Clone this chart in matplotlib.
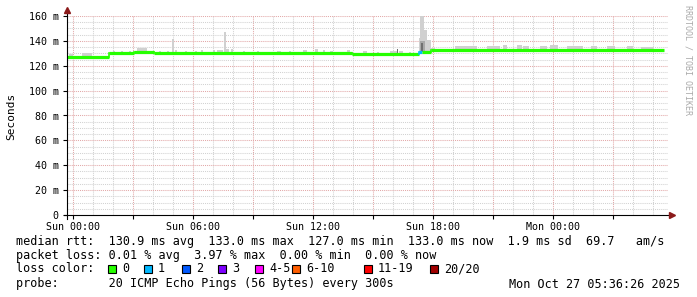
import numpy as np
import matplotlib
matplotlib.use("Agg")
import matplotlib.pyplot as plt
from matplotlib.patches import Rectangle

plt.rcParams['font.family'] = ['DejaVu Sans Mono']

# median rtt steps: hours since Sun 00:00 -> ms, and loss count per step
step_edges = [-0.3, 1.8, 3.05, 4.05, 13.95, 17.3, 17.45, 17.9, 29.55]
step_median = [127.0, 130.0, 131.3, 130.0, 129.2, 131.0, 131.3, 133.0]
step_loss = [0, 0, 0, 0, 0, 1, 0, 0]

# smoke (ping spread): start hour, end hour, top ms
smoke_start = [-0.2, 0.45, 2.0, 2.4, 2.8, 3.18, 4.3, 4.7, 4.95, 5.1, 5.6, 6.1, 6.4,
               7.0, 7.2, 7.55, 7.65, 7.9, 8.5, 9.2, 10.2, 10.8, 11.5, 12.1, 12.5,
               12.85, 13.7, 14.5, 15.2, 15.85, 16.3, 16.8, 17.3, 17.37, 17.53,
               17.7, 17.9, 19.1, 19.5, 20.7, 21.5, 22.2, 22.5, 23.35, 23.85,
               24.7, 25.9, 26.7, 27.7, 28.4]
smoke_end = [0.0, 0.95, 2.1, 2.5, 2.9, 3.7, 4.4, 4.8, 5.03, 5.2, 5.7, 6.2, 6.5,
             7.1, 7.5, 7.63, 7.8, 8.0, 8.6, 9.3, 10.4, 10.9, 11.7, 12.25, 12.6,
             13.0, 13.85, 14.7, 15.3, 16.2, 16.5, 16.9, 17.37, 17.53, 17.7,
             17.9, 18.1, 20.2, 20.0, 21.35, 21.7, 22.45, 22.8, 23.7, 24.25,
             25.5, 26.2, 27.1, 28.0, 29.0]
smoke_top = [129.8, 130.0, 131.5, 131.5, 131.8, 134.3, 132.0, 132.0, 141.2, 133.0,
             132.0, 132.0, 132.5, 132.5, 132.6, 147.3, 133.5, 133.6, 132.0, 132.0,
             132.0, 132.0, 132.6, 133.7, 133.0, 132.0, 132.5, 131.8, 131.0, 131.5,
             131.5, 131.0, 142.0, 160.5, 148.7, 141.0, 134.5, 135.9, 135.8, 135.5,
             136.6, 137.0, 135.5, 135.6, 136.5, 135.5, 135.5, 135.5, 135.5, 135.0]

# darker inner smoke
core_start = [16.2, 17.33, 17.41]
core_end = [16.27, 17.58, 17.5]
core_top = [133.4, 140.0, 138.3]
core_color = ['#707070', '#a8a8a8', '#707070']

loss_labels = ['0', '1', '2', '3', '4-5', '6-10', '11-19', '20/20']
loss_colors = ['#26ff00', '#00b8ff', '#0059ff', '#7e00ff', '#ff00fe',
               '#ff5e00', '#ff0000', '#a10000']
loss_box_x = [108, 144, 182, 218, 255, 292, 364, 430]

tick_hours = [0, 6, 12, 18, 24]
tick_names = ['Sun 00:00', 'Sun 06:00', 'Sun 12:00', 'Sun 18:00', 'Mon 00:00']

W, H = 697, 297
fig = plt.figure(figsize=(W / 100, H / 100), dpi=100)
fig.patch.set_facecolor('white')
ax = fig.add_axes([67 / W, 82 / H, 601 / W, 199 / H])
ax.set_xlim(-0.3, 29.75)
ax.set_ylim(0, 160)
for s in ax.spines.values():
    s.set_visible(False)

# grid
for h in range(0, 30):
    major = h % 3 == 0
    ax.axvline(h, color='#e2a8a8' if major else '#d2d2d2', lw=0.75,
               ls=(0, (1, 1)), zorder=1)
for v in range(5, 161, 5):
    major = v % 20 == 0
    ax.axhline(v, color='#e2a8a8' if major else '#d2d2d2', lw=0.75,
               ls=(0, (1, 1)), zorder=1)


def median_at(t):
    for i in range(len(step_median)):
        if step_edges[i] <= t < step_edges[i + 1]:
            return step_median[i]
    return step_median[-1]


for a, b, top in zip(smoke_start, smoke_end, smoke_top):
    base = median_at(a)
    ax.bar(a, top - base, width=b - a, bottom=base, align='edge',
           color='#d0d0d0', lw=0, zorder=2)
for a, b, top, c in zip(core_start, core_end, core_top, core_color):
    base = median_at(a)
    ax.bar(a, top - base, width=b - a, bottom=base, align='edge',
           color=c, lw=0, zorder=3)

# median line coloured by loss
for i in range(len(step_median)):
    c = loss_colors[step_loss[i]]
    ax.plot([step_edges[i], step_edges[i + 1]], [step_median[i]] * 2,
            color=c, lw=2.3, solid_capstyle='butt', zorder=4)
    if i > 0:
        ax.plot([step_edges[i]] * 2, [step_median[i - 1], step_median[i]],
                color=c, lw=1.2, zorder=4)

# axes with arrows
ax.plot([0, 0], [-0.02, 1.03], transform=ax.transAxes, color='black', lw=0.8,
        clip_on=False, zorder=5)
ax.plot([-0.005, 1.005], [0, 0], transform=ax.transAxes, color='black', lw=0.8,
        clip_on=False, zorder=5)
ax.plot([0], [1.03], marker='^', ms=4.5, color='#8b1a1a', transform=ax.transAxes,
        clip_on=False, zorder=6)
ax.plot([1.007], [0], marker='>', ms=4.5, color='#8b1a1a', transform=ax.transAxes,
        clip_on=False, zorder=6)

ax.set_xticks(range(0, 30, 3))
ax.set_xticklabels([tick_names[tick_hours.index(h)] if h in tick_hours else ''
                    for h in range(0, 30, 3)])
ax.set_yticks(range(0, 161, 20))
ax.set_yticklabels(['0'] + ['%d m' % v for v in range(20, 161, 20)])
ax.tick_params(axis='both', length=3, width=0.8, color='black', labelsize=7.2,
               direction='out')
ax.tick_params(axis='x', pad=2)
ax.tick_params(axis='y', pad=3)

fig.text(11 / W, 1 - 116 / H, 'Seconds', rotation=90, ha='center', va='center',
         fontsize=8)
fig.text(688 / W, 1 - 5 / H, 'RRDTOOL / TOBI OETIKER', rotation=270, ha='center',
         va='top', fontsize=6, color='#aaaaaa')

fs = 8.5
rows = [241, 256, 269, 284]
fig.text(16 / W, 1 - rows[0] / H,
         'median rtt:  130.9 ms avg  133.0 ms max  127.0 ms min  133.0 ms now  '
         '1.9 ms sd  69.7   am/s', fontsize=fs, va='center')
fig.text(16 / W, 1 - rows[1] / H,
         'packet loss: 0.01 % avg  3.97 % max  0.00 % min  0.00 % now',
         fontsize=fs, va='center')
fig.text(16 / W, 1 - rows[2] / H, 'loss color:', fontsize=fs, va='center')
for bx, lab, col in zip(loss_box_x, loss_labels, loss_colors):
    fig.patches.append(Rectangle((bx / W, 1 - (rows[2] + 4) / H), 8 / W, 8 / H,
                                 transform=fig.transFigure, facecolor=col,
                                 edgecolor='black', lw=0.8))
    fig.text((bx + 14) / W, 1 - rows[2] / H, lab, fontsize=fs, va='center')
fig.text(16 / W, 1 - rows[3] / H,
         'probe:       20 ICMP Echo Pings (56 Bytes) every 300s',
         fontsize=fs, va='center')
fig.text(680 / W, 1 - rows[3] / H, 'Mon Oct 27 05:36:26 2025', fontsize=fs,
         va='center', ha='right')

fig.savefig('out.png', dpi=100)
